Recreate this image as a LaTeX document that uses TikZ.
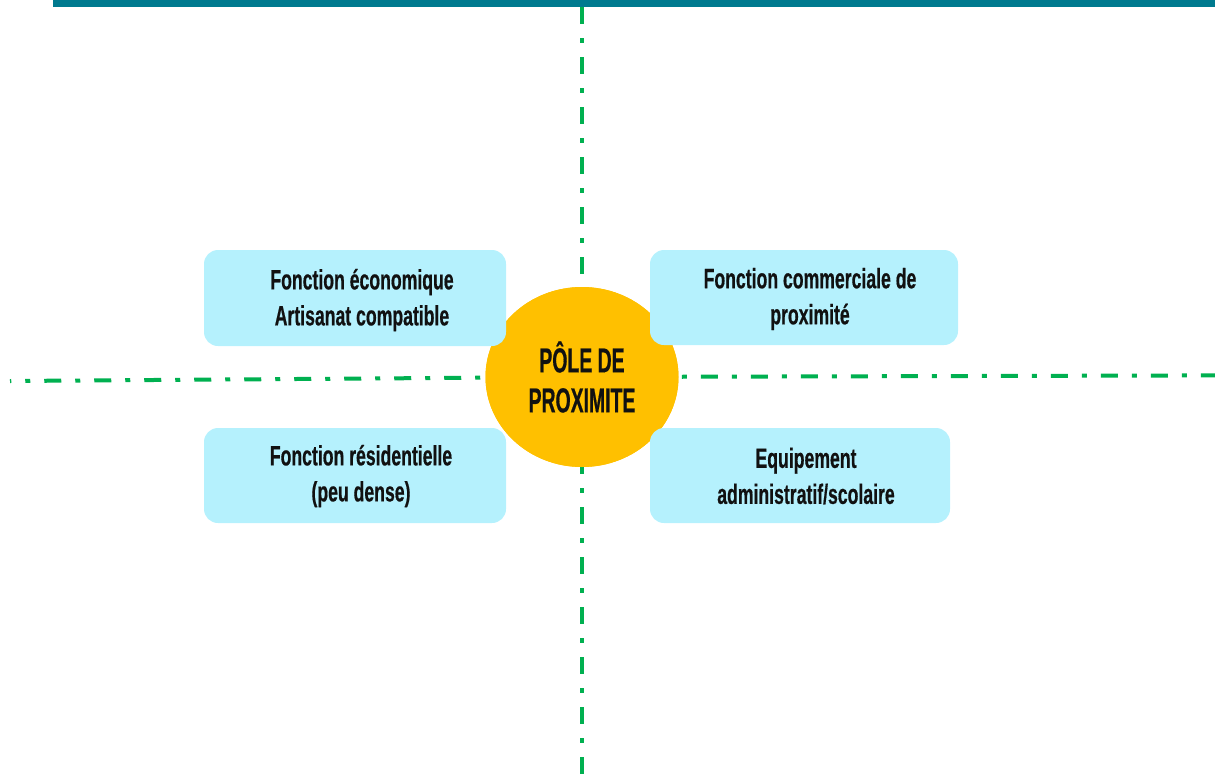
\documentclass[tikz,border=0pt]{standalone}
\usepackage{fontspec}
\usetikzlibrary{shapes.geometric,calc}
\newfontfamily\condfont[FakeStretch=0.63,FakeBold=0.5]{Liberation Sans}
\newfontfamily\polefont[FakeStretch=0.56,FakeBold=0.5]{Liberation Sans}
\definecolor{barteal}{HTML}{007A8F}
\definecolor{axisgreen}{HTML}{00B050}
\definecolor{poleyellow}{HTML}{FFC000}
\definecolor{boxcyan}{HTML}{B5F1FD}
\definecolor{txtdark}{HTML}{111111}
\tikzset{
  axisline/.style={draw=axisgreen, line width=3pt,
    dash pattern=on 12.75pt off 10.5pt on 3.75pt off 10.5pt},
  funcbox/.style={rectangle, rounded corners=10.5pt, fill=boxcyan, draw=none, inner sep=0pt},
  funclabel/.style={font=\condfont\bfseries\fontsize{21pt}{27pt}\selectfont, text=txtdark, align=center, inner sep=0pt},
  pole/.style={ellipse, fill=poleyellow, draw=none, minimum width=144.75pt, minimum height=135pt, inner sep=0pt,
    font=\polefont\bfseries\fontsize{26pt}{30pt}\selectfont, text=txtdark, align=center}
}
\begin{document}
\begin{tikzpicture}[x=0.75pt, y=-0.75pt]
\useasboundingbox (0,0) rectangle (1215,775);
\fill[barteal] (53,0) rectangle (1215,7);

\node[pole] (c) at (582,377) {};
\coordinate (top) at (582,7);
\coordinate (bot) at (582,775);
\coordinate (left) at (10,381);
\coordinate (right) at (1215,375.4);

\draw[axisline] (top) -- (c);
\draw[axisline, dash phase=7.5pt] (c) -- (bot);
\draw[axisline, dash phase=19.5pt] (c) -- (left);
\draw[axisline, dash phase=21pt] (c) -- (right);

\node[pole] (pole) at (582,377) {PÔLE DE\\PROXIMITE};

\node[funcbox, minimum width=226.5pt, minimum height=72pt] (tl) at (355,298) {};
\node[funcbox, minimum width=231pt, minimum height=71.25pt] (tr) at (804,297.5) {};
\node[funcbox, minimum width=226.5pt, minimum height=71.25pt] (bl) at (355,475.5) {};
\node[funcbox, minimum width=225pt, minimum height=71.25pt] (br) at (800,475.5) {};

\node[funclabel] (tltext) at (362,300) {Fonction économique\\Artisanat compatible};
\node[funclabel] (trtext) at (810,299) {Fonction commerciale de\\proximité};
\node[funclabel] (bltext) at (361,476) {Fonction résidentielle\\(peu dense)};
\node[funclabel] (brtext) at (806,476) {Equipement\\administratif/scolaire};
\end{tikzpicture}
\end{document}
